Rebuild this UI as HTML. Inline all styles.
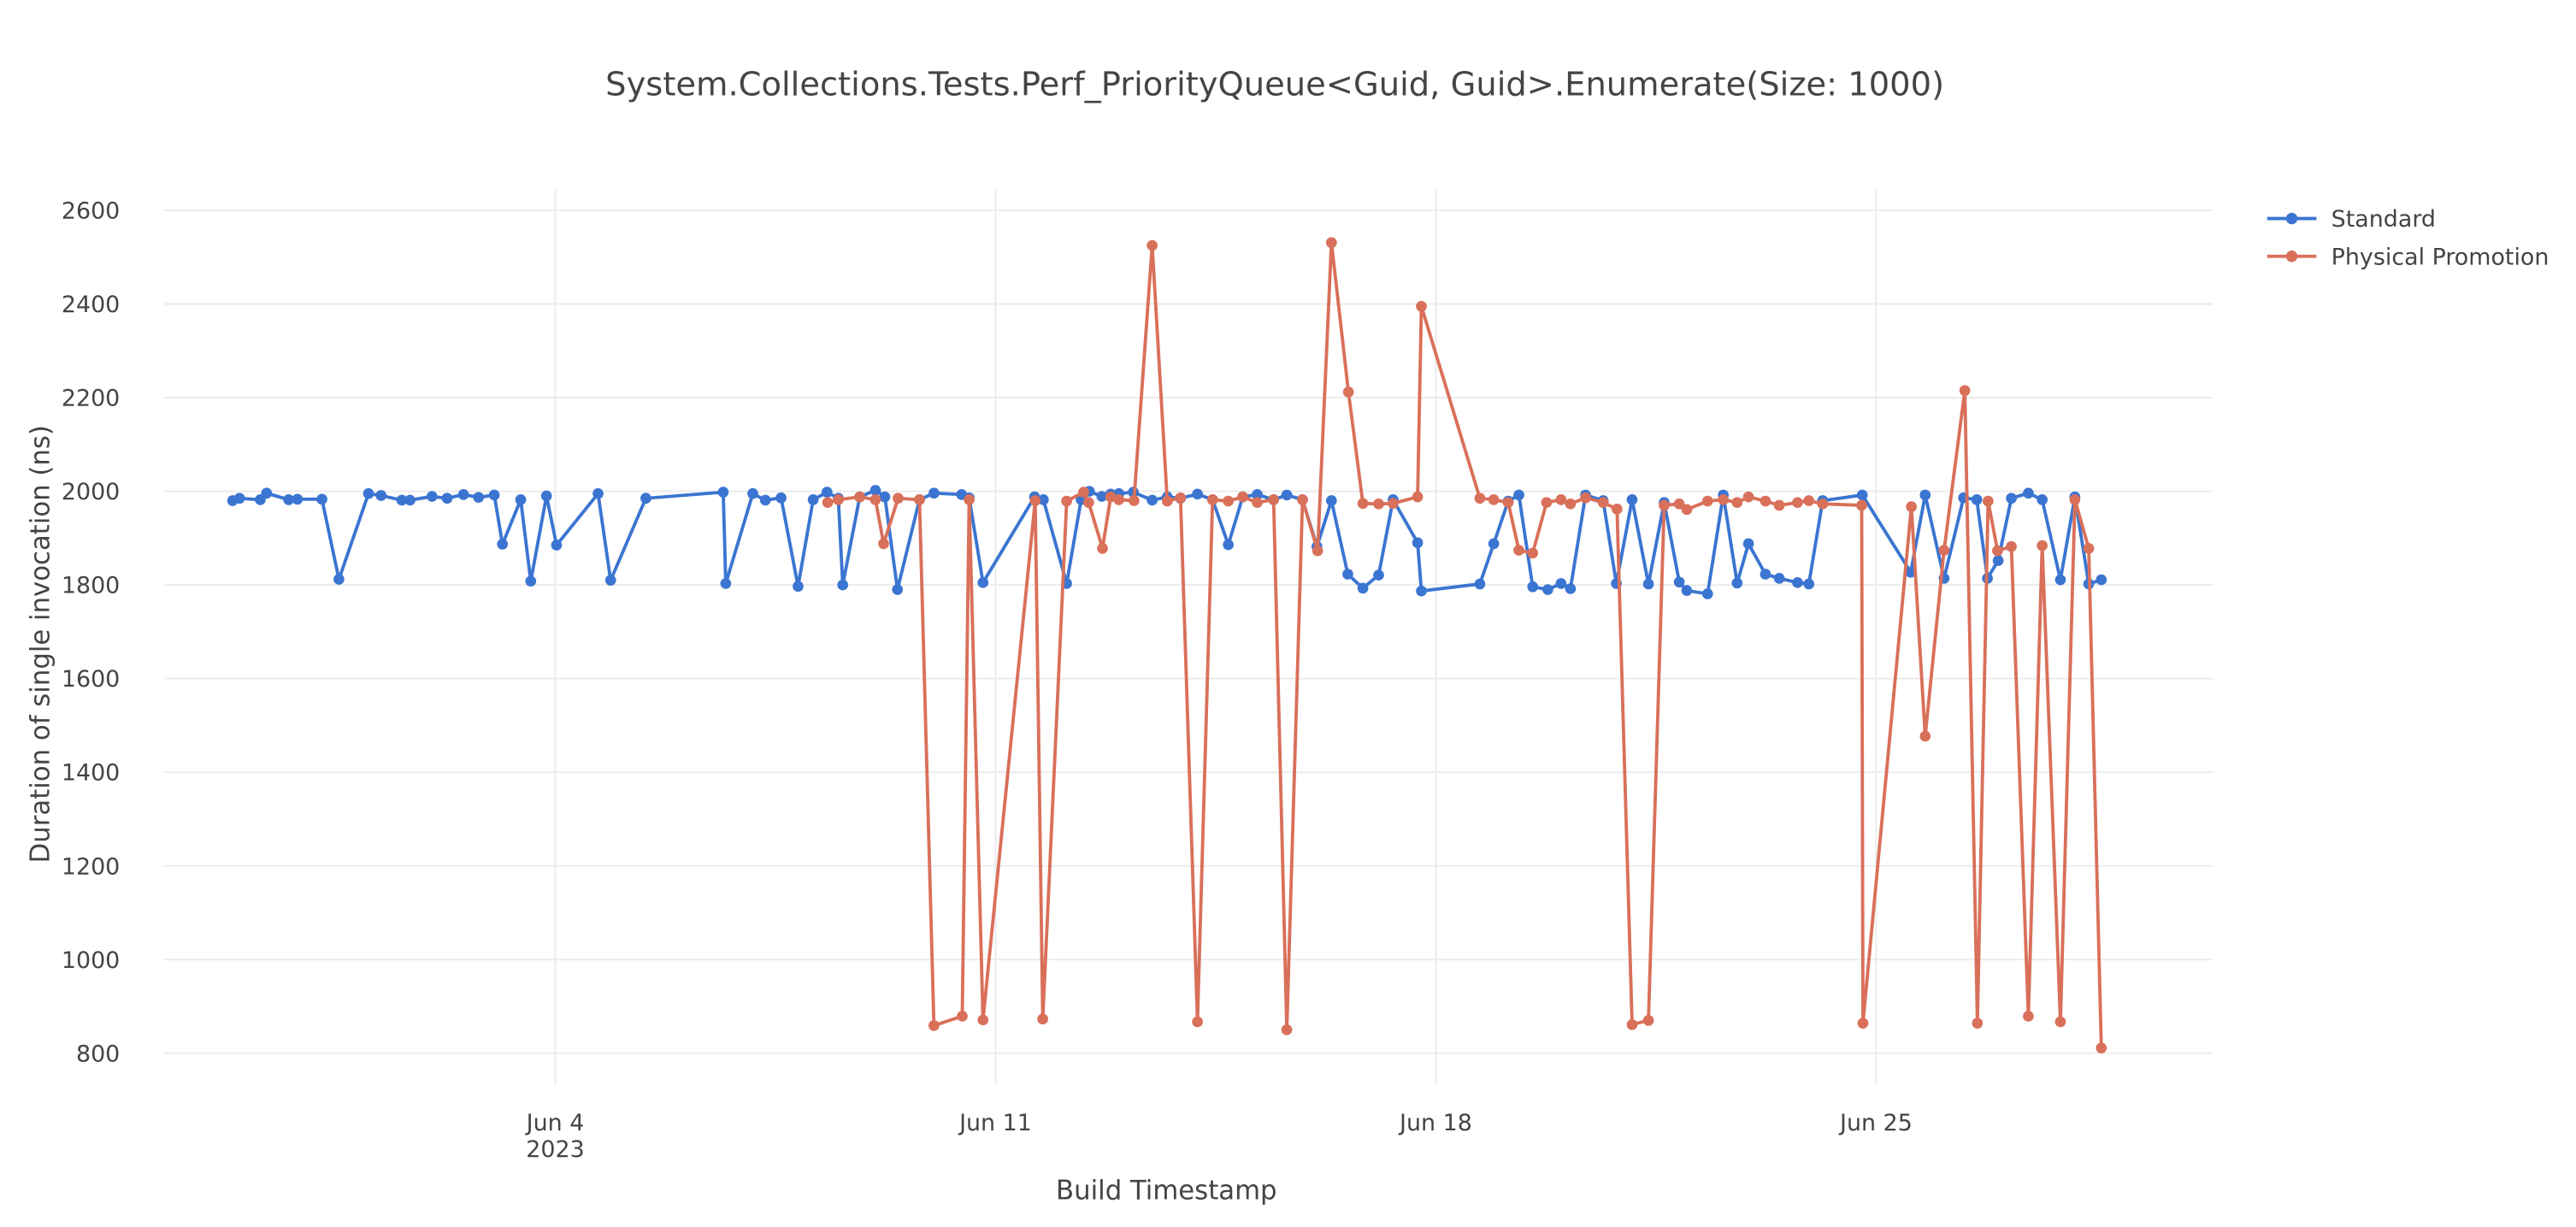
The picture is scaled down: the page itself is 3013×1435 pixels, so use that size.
<!DOCTYPE html>
<html><head><meta charset="utf-8"><style>
html,body{margin:0;padding:0;background:#fff;}
svg{display:block;font-family:"DejaVu Sans","Liberation Sans",sans-serif;}
</style></head><body>
<svg id="chart" width="3013" height="1435" viewBox="0 0 1568 746.8" xmlns="http://www.w3.org/2000/svg">
<rect x="0" y="0" width="1568" height="746.8" fill="#fff"/>
<text x="776" y="58" text-anchor="middle" font-size="20" fill="#444">System.Collections.Tests.Perf_PriorityQueue&lt;Guid, Guid&gt;.Enumerate(Size: 1000)</text>
<g id="grid"></g>
<g id="series"></g>
<text x="710" y="730" text-anchor="middle" font-size="16" fill="#444">Build Timestamp</text>
<text transform="translate(30,392) rotate(-90)" text-anchor="middle" font-size="16" fill="#444">Duration of single invocation (ns)</text>
<g>
<g>
<line x1="1380" y1="133" x2="1410" y2="133" stroke="#3b75d1" stroke-width="2"/>
<circle cx="1395" cy="133" r="3.5" fill="#3b75d1"/>
<text x="1419" y="138" font-size="14" fill="#444">Standard</text>
</g>
<g>
<line x1="1380" y1="156" x2="1410" y2="156" stroke="#d9705a" stroke-width="2"/>
<circle cx="1395" cy="156" r="3.5" fill="#d9705a"/>
<text x="1419" y="161" font-size="14" fill="#444">Physical Promotion</text>
</g>
</g>
</svg>
<script>
// x values are day-of-June 2023 (fractional)
const stdDays = [-1.13,-1.02,-0.69,-0.59,-0.24,-0.10,0.29,0.56,1.03,1.23,1.56,1.69,2.04,2.28,2.54,2.78,3.03,3.16,3.45,3.61,3.86,4.02,4.68,4.88,5.44,6.67,6.71,7.14,7.34,7.59,7.86,8.10,8.32,8.50,8.57,8.84,9.09,9.24,9.44,9.79,10.02,10.46,10.58,10.80,11.62,11.76,12.13,12.36,12.49,12.69,12.83,12.96,13.19,13.49,13.73,13.94,14.21,14.45,14.70,14.93,15.16,15.42,15.63,15.88,16.11,16.34,16.60,16.84,17.09,17.32,17.71,17.77,18.70,18.92,19.15,19.32,19.54,19.78,19.99,20.14,20.38,20.66,20.87,21.12,21.38,21.63,21.87,21.99,22.32,22.57,22.79,22.97,23.24,23.46,23.75,23.93,24.15,24.78,25.55,25.78,26.08,26.39,26.60,26.77,26.94,27.15,27.42,27.64,27.93,28.16,28.38,28.58];
const stdValues = [1980,1985,1982,1996,1982,1983,1983,1812,1995,1991,1981,1981,1989,1985,1993,1987,1992,1887,1982,1808,1990,1885,1995,1810,1985,1998,1803,1995,1981,1986,1797,1982,1998,1985,1800,1988,2002,1988,1790,1982,1996,1993,1986,1805,1988,1982,1803,1982,2000,1989,1994,1995,1998,1981,1988,1985,1994,1982,1886,1988,1993,1982,1992,1982,1882,1980,1823,1793,1821,1982,1890,1787,1802,1888,1979,1992,1796,1790,1803,1792,1992,1980,1803,1982,1802,1976,1806,1788,1781,1992,1804,1888,1823,1814,1805,1802,1980,1992,1827,1992,1814,1986,1982,1814,1852,1985,1996,1982,1811,1988,1802,1811];
const ppDays = [8.33,8.50,8.84,9.09,9.22,9.45,9.79,10.02,10.47,10.58,10.80,11.63,11.75,12.13,12.40,12.48,12.70,12.83,12.96,13.20,13.49,13.73,13.94,14.21,14.45,14.70,14.93,15.16,15.42,15.63,15.88,16.12,16.34,16.61,16.84,17.09,17.32,17.71,17.77,18.70,18.92,19.15,19.32,19.54,19.76,19.99,20.14,20.38,20.66,20.88,21.12,21.38,21.63,21.87,21.99,22.32,22.57,22.79,22.97,23.24,23.46,23.75,23.93,24.15,24.77,24.79,25.56,25.78,26.08,26.41,26.61,26.78,26.93,27.15,27.42,27.64,27.93,28.16,28.38,28.58];
const ppValues = [1976,1982,1988,1982,1888,1985,1982,859,879,1982,871,1980,873,1979,1998,1976,1878,1988,1982,1980,2525,1979,1986,867,1982,1979,1988,1976,1982,850,1982,1873,2531,2212,1974,1973,1974,1988,2395,1985,1982,1976,1874,1868,1976,1982,1973,1986,1976,1962,861,870,1970,1973,1961,1979,1982,1976,1988,1979,1970,1976,1980,1973,1970,864,1967,1477,1874,2215,864,1979,1873,1882,879,1884,867,1982,1878,811];
const yTicks = [800,1000,1200,1400,1600,1800,2000,2200,2400,2600];
const xTickDays = [4,11,18,25];
const xTickLabels = ["Jun 4","Jun 11","Jun 18","Jun 25"];

const NS = "http://www.w3.org/2000/svg";
const X0 = 100, X1 = 1347, YT = 115, YB = 660;
function xScale(d){ return 338 + (d - 4) * 38.286; }
function yScale(v){ return 641 - (v - 800) * 0.285; }
function mk(tag, attrs, parent){
  const e = document.createElementNS(NS, tag);
  for (const k in attrs) e.setAttribute(k, attrs[k]);
  parent.appendChild(e);
  return e;
}
const grid = document.getElementById('grid');
yTicks.forEach(v => {
  const y = yScale(v);
  const l = mk('line', {x1:X0, x2:X1, y1:y, y2:y, stroke:'#ebebeb', 'stroke-width':1}, grid);
  
  
  const t = mk('text', {x:73, y:y+5, 'text-anchor':'end', 'font-size':14, fill:'#444'}, grid);
  
  
  t.textContent = v;
});
xTickDays.forEach((d, i) => {
  const x = xScale(d);
  const l = mk('line', {x1:x, x2:x, y1:YT, y2:YB, stroke:'#ebebeb', 'stroke-width':1}, grid);
  
  
  const t = mk('text', {x:x, y:688, 'text-anchor':'middle', 'font-size':14, fill:'#444'}, grid);
  
  
  t.textContent = xTickLabels[i];
  if (i === 0) {
    const t2 = mk('text', {x:x, y:704, 'text-anchor':'middle', 'font-size':14, fill:'#444'}, grid);
    
    
    t2.textContent = '2023';
  }
});
const series = document.getElementById('series');
function drawSeries(days, vals, color, name){
  const g = mk('g', {}, series);
  
  
  const pts = days.map((d, i) => xScale(d).toFixed(2) + ',' + yScale(vals[i]).toFixed(2)).join(' ');
  const pl = mk('polyline', {points:pts, fill:'none', stroke:color, 'stroke-width':2, 'stroke-linejoin':'round'}, g);
  
  
  days.forEach((d, i) => {
    const c = mk('circle', {cx:xScale(d), cy:yScale(vals[i]), r:3.3, fill:color}, g);
    
    
  });
}
drawSeries(stdDays, stdValues, '#3b75d1', 'standard');
drawSeries(ppDays, ppValues, '#d9705a', 'physical-promotion');
</script>
</body></html>
